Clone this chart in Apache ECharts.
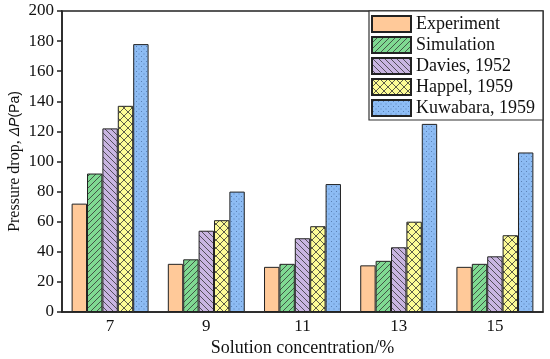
<!DOCTYPE html>
<html><head><meta charset="utf-8">
<script src="https://cdn.jsdelivr.net/npm/echarts@6/dist/echarts.min.js"></script>
<style>html,body{margin:0;padding:0;background:#fff}#c{width:550px;height:359px}</style>
</head><body><div id="c"></div>
<script>
const categories = ['7', '9', '11', '13', '15'];
const seriesNames = ['Experiment', 'Simulation', 'Davies, 1952', 'Happel, 1959', 'Kuwabara, 1959'];
const experiment = [72, 32, 30, 31, 30];
const simulation = [92, 35, 32, 34, 32];
const davies = [122, 54, 49, 43, 37];
const happel = [137, 61, 57, 60, 51];
const kuwabara = [178, 80, 85, 125, 106];
const yTicks = [0, 20, 40, 60, 80, 100, 120, 140, 160, 180, 200];

function tile(bg, kind) {
  const s = kind === 'cross' ? 8 : (kind === 'dots' ? 5 : 6);
  const c = document.createElement('canvas');
  c.width = s; c.height = s;
  const g = c.getContext('2d');
  g.fillStyle = bg; g.fillRect(0, 0, s, s);
  g.strokeStyle = '#333'; g.lineWidth = 0.8; g.fillStyle = '#3a5a8a';
  const fwd = () => { g.beginPath(); g.moveTo(-1, s + 1); g.lineTo(s + 1, -1); g.moveTo(-2, 2); g.lineTo(2, -2); g.moveTo(s - 2, s + 2); g.lineTo(s + 2, s - 2); g.stroke(); };
  const back = () => { g.beginPath(); g.moveTo(-1, -1); g.lineTo(s + 1, s + 1); g.moveTo(-2, s - 2); g.lineTo(2, s + 2); g.moveTo(s - 2, -2); g.lineTo(s + 2, 2); g.stroke(); };
  if (kind === 'fwd') fwd();
  if (kind === 'back') back();
  if (kind === 'cross') { fwd(); back(); }
  if (kind === 'dots') {
    g.globalAlpha = 0.6;
    g.fillRect(1, 1, 1, 1);
    g.fillRect(3.5, 3.5, 1, 1);
  }
  return { image: c, repeat: 'repeat' };
}

const fills = [
  '#FFC999',
  tile('#7FD992', 'fwd'),
  tile('#C9B5E2', 'back'),
  tile('#FDFB96', 'cross'),
  tile('#8DBCF4', 'dots')
];
const values = [experiment, simulation, davies, happel, kuwabara];

const chart = echarts.init(document.getElementById('c'), null, { renderer: 'canvas' });
const font = 'Liberation Serif';
chart.setOption({
  animation: false,
  textStyle: { fontFamily: font },
  grid: { left: 62, right: 7, top: 11, bottom: 47, show: true, borderColor: '#222', borderWidth: 1.5,
    containLabel: false, outerBoundsMode: 'none' },
  legend: {
    orient: 'vertical', left: 369, top: 11,
    padding: [4, 8, 3, 2],
    itemWidth: 39, itemHeight: 16, itemGap: 3,
    backgroundColor: '#fff', borderColor: '#333', borderWidth: 1.2,
    icon: 'rect',
    textStyle: { fontFamily: font, fontSize: 18, color: '#111', padding: [0, 0, 0, 0] },
    data: seriesNames
  },
  xAxis: {
    type: 'category', data: categories,
    name: 'Solution concentration/%', nameLocation: 'middle', nameGap: 27, nameMoveOverlap: false,
    nameTextStyle: { fontFamily: font, fontSize: 18, color: '#111' },
    axisLine: { lineStyle: { color: '#222', width: 1.5 } },
    axisTick: { show: true, inside: true, alignWithLabel: true, length: 5, lineStyle: { color: '#222', width: 1.5 } },
    axisLabel: { fontFamily: font, fontSize: 17, color: '#111', margin: 6 }
  },
  yAxis: {
    type: 'value', min: 0, max: 200, interval: 20,
    name: '{a|Pressure drop, }{b|ΔP}{c|(Pa)}', nameLocation: 'middle', nameGap: 39, nameMoveOverlap: false,
    nameTextStyle: {
      rich: {
        a: { fontFamily: font, fontSize: 16, color: '#111' },
        b: { fontFamily: 'Liberation Sans', fontStyle: 'italic', fontSize: 14, color: '#111' },
        c: { fontFamily: 'Liberation Sans', fontSize: 14, color: '#111' }
      }
    },
    axisLine: { show: true, lineStyle: { color: '#222', width: 1.5 } },
    axisTick: { show: true, inside: false, length: 5, lineStyle: { color: '#222', width: 1.5 } },
    splitLine: { show: false },
    axisLabel: { fontFamily: font, fontSize: 17, color: '#111', margin: 8,
      formatter: v => yTicks.includes(v) ? String(v) : '' }
  },
  series: values.map((d, i) => ({
    name: seriesNames[i], type: 'bar', data: d,
    barGap: '0%', barCategoryGap: '20%',
    itemStyle: { color: fills[i], borderColor: '#222', borderWidth: 1 }
  }))
});
</script></body></html>
